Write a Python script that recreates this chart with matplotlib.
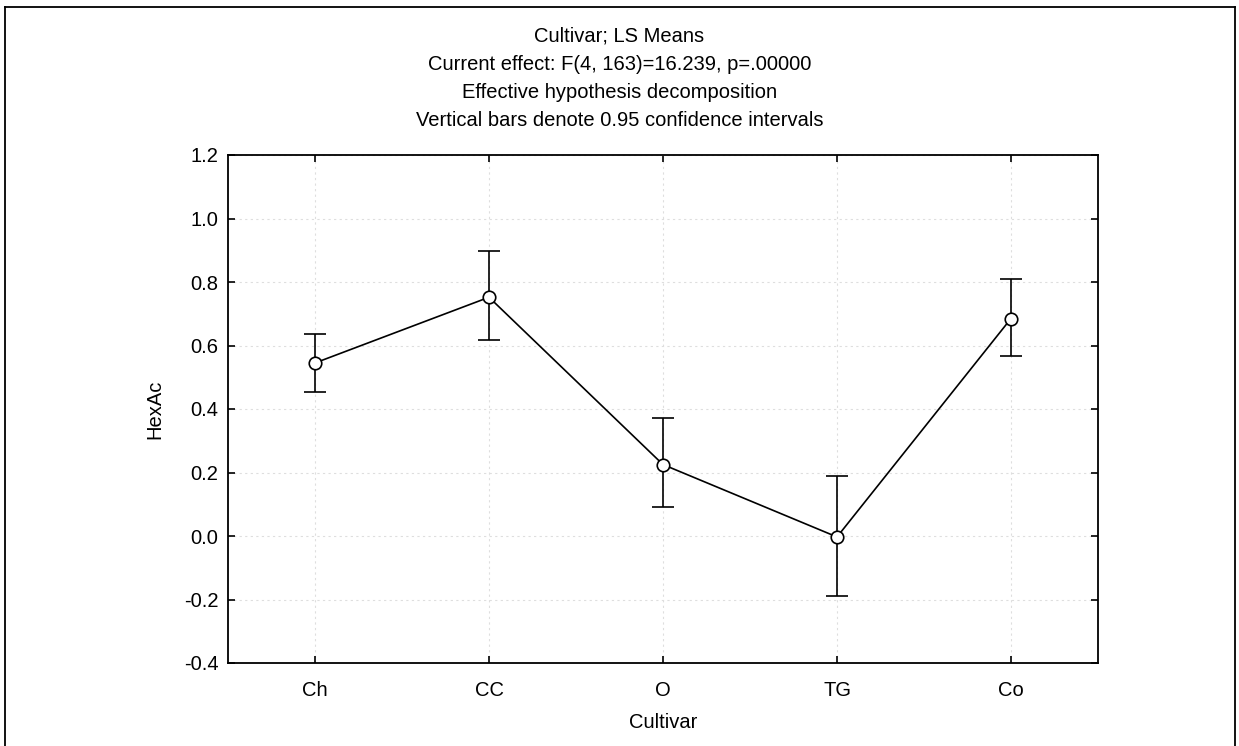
import matplotlib
matplotlib.use("Agg")
import matplotlib.pyplot as plt
from matplotlib.lines import Line2D

# ===== DATA =====
cultivars = ["Ch", "CC", "O", "TG", "Co"]
means = [0.545, 0.752, 0.225, -0.003, 0.685]
ci_low = [0.455, 0.617, 0.090, -0.188, 0.567]
ci_high = [0.637, 0.897, 0.371, 0.188, 0.810]

title_lines = [
    "Cultivar; LS Means",
    "Current effect: F(4, 163)=16.239, p=.00000",
    "Effective hypothesis decomposition",
    "Vertical bars denote 0.95 confidence intervals",
]
y_ticks = [-0.4, -0.2, 0.0, 0.2, 0.4, 0.6, 0.8, 1.0, 1.2]

plt.rcParams["font.family"] = ["Liberation Sans", "DejaVu Sans"]
plt.rcParams["font.size"] = 14.5

W, H = 1239, 746
fig = plt.figure(figsize=(W / 100, H / 100), dpi=100)
ax = fig.add_axes([228 / W, 1 - 663 / H, 870 / W, 508 / H])

x = list(range(len(cultivars)))
yerr = [[m - lo for m, lo in zip(means, ci_low)],
        [hi - m for m, hi in zip(means, ci_high)]]
ax.errorbar(x, means, yerr=yerr, fmt="none", ecolor="black",
            elinewidth=1.2, capsize=8, capthick=1.2, zorder=2)
ax.plot(x, means, color="black", lw=1.2, marker="o", markersize=9,
        markerfacecolor="white", markeredgecolor="black",
        markeredgewidth=1.2, zorder=3)

ax.set_xlim(-0.5, len(cultivars) - 0.5)
ax.set_ylim(-0.4, 1.2)
ax.set_xticks(x)
ax.set_xticklabels(cultivars)
ax.set_yticks(y_ticks)
ax.set_yticklabels([f"{v:.1f}" for v in y_ticks])
ax.tick_params(axis="x", direction="in", length=5, width=1.2, pad=13,
               top=True)
ax.tick_params(axis="y", direction="in", length=5, width=1.2, pad=7,
               right=True)
for s in ax.spines.values():
    s.set_linewidth(1.3)
ax.grid(True, color="#dedede", linestyle=(0, (2, 3)), linewidth=0.8)
ax.set_axisbelow(True)

ax.set_xlabel("Cultivar", labelpad=9)
ax.set_ylabel("HexAc", labelpad=14)

# stacked title lines
for i, line in enumerate(title_lines):
    fig.text(0.5, 1 - (36 + i * 28) / H, line, ha="center", va="center")

# outer frame
frame_kw = dict(color="black", lw=1.3, transform=fig.transFigure)
fig.add_artist(Line2D([5 / W, 5 / W], [0, 1 - 7 / H], **frame_kw))
fig.add_artist(Line2D([5 / W, 1235 / W], [1 - 7 / H, 1 - 7 / H], **frame_kw))
fig.add_artist(Line2D([1235 / W, 1235 / W], [0, 1 - 7 / H], **frame_kw))

fig.savefig("out.png", dpi=100)
